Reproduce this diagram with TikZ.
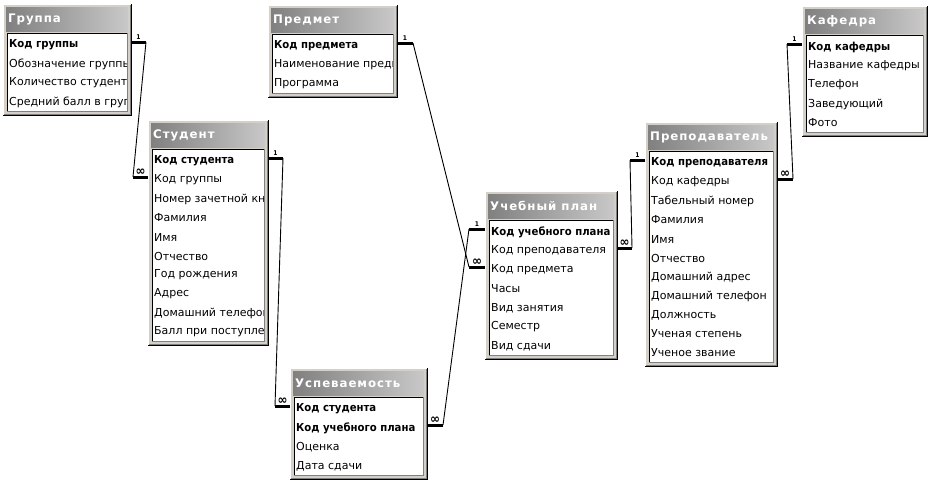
\documentclass[tikz,border=0pt]{standalone}
\usepackage{fontspec}
\setmainfont{DejaVu Sans}[BoldFeatures={FakeStretch=0.92}]
\newfontfamily\ertitlefont{DejaVu Sans}[LetterSpace=8]
\usetikzlibrary{calc}

\definecolor{framegray}{HTML}{D4D0C8}
\definecolor{bardark}{HTML}{808080}
\definecolor{barlight}{HTML}{C8C8C8}

\tikzset{
  erframe/.style={fill=framegray},
  erbar/.style={left color=bardark, right color=barlight},
  ertitle/.style={anchor=west, inner sep=0pt, text=white, font=\ertitlefont\bfseries\fontsize{11.8}{13}\selectfont},
  errow/.style={anchor=west, inner sep=0pt, font=\fontsize{11}{12}\selectfont},
  stub/.style={line width=3pt},
  link/.style={line width=0.9pt},
  onelbl/.style={above=1pt, inner sep=0pt, font=\bfseries\fontsize{6.5}{7}\selectfont},
  manylbl/.style={above=0pt, inner sep=0pt, font=\bfseries\fontsize{13}{13}\selectfont}
}

% name, left, top, right, rows, key rows, title, fields
\newcommand{\erbox}[8]{%
  \pgfmathsetmacro{\erB}{#3+40+(#5-1)*19+14}
  \fill[erframe] (#2,#3) rectangle (#4,\erB);
  \draw[white] (#2,\erB) -- (#2,#3) -- (#4,#3);
  \draw[black] (#2,\erB) -- (#4,\erB) -- (#4,#3);
  \draw[black!50] ({#2+1},{\erB-1}) -- ({#4-1},{\erB-1}) -- ({#4-1},{#3+1});
  \shade[erbar] ({#2+3},{#3+3}) rectangle ({#4-3},{#3+27});
  \node[ertitle] (#1-title) at ({#2+5},{#3+15}) {#7};
  \fill[white] ({#2+4},{#3+29}) rectangle ({#4-4},{\erB-4});
  \draw[black] ({#2+4},{\erB-4}) |- ({#4-4},{#3+29});
  \draw[black!50] ({#2+4},{\erB-4}) -| ({#4-4},{#3+29});
  \begin{scope}
    \clip ({#2+5},{#3+30}) rectangle ({#4-5},{\erB-5});
    \foreach \t [count=\i] in {#8} {
      \pgfmathsetmacro{\erY}{#3+41+(\i-1)*19}
      \node[errow] (#1-\i) at ({#2+6},\erY) {\ifnum\i>#6 \else\bfseries\fi\t};
      \coordinate (#1-\i-w) at (#2,{\erY-3});
      \coordinate (#1-\i-e) at (#4,{\erY-3});
    }
  \end{scope}
}

\begin{document}
\begin{tikzpicture}[x=1pt,y=-1pt]
\useasboundingbox (0,0) rectangle (933,485);

\erbox{grp}{3}{4}{131}{4}{1}{Группа}{Код группы,Обозначение группы,Количество студентов,Средний балл в группе}
\erbox{stu}{148}{120}{268}{10}{1}{Студент}{Код студента,Код группы,Номер зачетной книжки,Фамилия,Имя,Отчество,Год рождения,Адрес,Домашний телефон,Балл при поступлении}
\erbox{prd}{268}{5}{397}{3}{1}{Предмет}{Код предмета,Наименование предмета,Программа}
\erbox{plan}{485}{191}{617}{7}{1}{Учебный план}{Код учебного плана,Код преподавателя,Код предмета,Часы,Вид занятия,Семестр,Вид сдачи}
\erbox{usp}{290}{368}{427}{4}{2}{Успеваемость}{Код студента,Код учебного плана,Оценка,Дата сдачи}
\erbox{prp}{645}{122}{777}{11}{1}{Преподаватель}{Код преподавателя,Код кафедры,Табельный номер,Фамилия,Имя,Отчество,Домашний адрес,Домашний телефон,Должность,Ученая степень,Ученое звание}
\erbox{kaf}{802}{6}{927}{5}{1}{Кафедра}{Код кафедры,Название кафедры,Телефон,Заведующий,Фото}

\draw[stub] (grp-1-e) -- node[onelbl]{1} ++(15,0) coordinate (grp-1-x);
\draw[stub] (stu-2-w) -- node[manylbl]{∞} ++(-15,0) coordinate (stu-2-x);
\draw[link] (grp-1-x) -- (stu-2-x);

\draw[stub] (stu-1-e) -- node[onelbl]{1} ++(15,0) coordinate (stu-1-x);
\draw[stub] (usp-1-w) -- node[manylbl]{∞} ++(-15,0) coordinate (usp-1-x);
\draw[link] (stu-1-x) -- (usp-1-x);

\draw[stub] (prd-1-e) -- node[onelbl]{1} ++(16,0) coordinate (prd-1-x);
\draw[stub] (plan-3-w) -- node[manylbl]{∞} ++(-16,0) coordinate (plan-3-x);
\draw[link] (prd-1-x) -- (plan-3-x);

\draw[stub] (plan-1-w) -- node[onelbl]{1} ++(-16,0) coordinate (plan-1-x);
\draw[stub] (usp-2-e) -- node[manylbl]{∞} ++(16,0) coordinate (usp-2-x);
\draw[link] (plan-1-x) -- (usp-2-x);

\draw[stub] (prp-1-w) -- node[onelbl]{1} ++(-15,0) coordinate (prp-1-x);
\draw[stub] (plan-2-e) -- node[manylbl]{∞} ++(15,0) coordinate (plan-2-x);
\draw[link] (prp-1-x) -- (plan-2-x);

\draw[stub] (kaf-1-w) -- node[onelbl]{1} ++(-15,0) coordinate (kaf-1-x);
\draw[stub] (prp-2-e) -- node[manylbl]{∞} ++(16,0) coordinate (prp-2-x);
\draw[link] (kaf-1-x) -- (prp-2-x);
\end{tikzpicture}
\end{document}
